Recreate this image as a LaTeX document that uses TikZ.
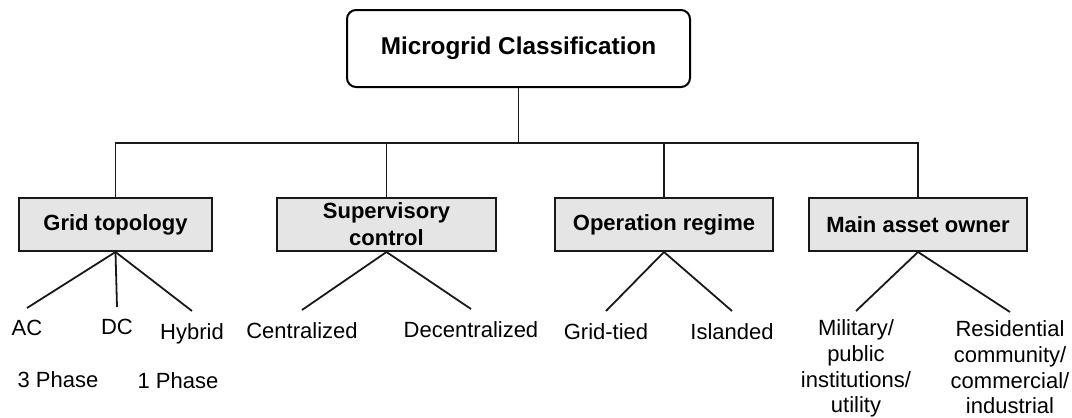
\documentclass[tikz,border=0pt]{standalone}
\usepackage{fontspec}
\setmainfont{Liberation Sans}
\begin{document}
\begin{tikzpicture}[x=1pt,y=-1pt,
  conn/.style={line width=1.8pt, draw=black!90},
  catbox/.style={draw=black!90, line width=2pt, fill=black!10,
    font=\bfseries\fontsize{22}{27}\selectfont, align=center,
    minimum height=53pt, inner sep=0pt},
  rootbox/.style={draw=black, line width=2pt, rounded corners=9pt,
    fill=white, minimum width=343pt, minimum height=77pt,
    font=\bfseries\fontsize{24.3}{29}\selectfont},
  leaf/.style={font=\fontsize{22}{25.7}\selectfont, align=center,
    inner xsep=0pt, inner ysep=12pt, anchor=north},
  note/.style={font=\fontsize{22}{25.7}\selectfont, inner sep=0pt, anchor=base}]
\useasboundingbox (0,0) rectangle (1072,418);

% root and the four classification criteria
\node[rootbox] (root) at (518.5,48.5) {Microgrid Classification};
\node[catbox, minimum width=193pt] (gt) at (115.5,224.5) {Grid topology};
\node[catbox, minimum width=219pt] (sc) at (386.5,224.5) {Supervisory\\control};
\node[catbox, minimum width=218pt] (op) at (664,224.5) {Operation regime};
\node[catbox, minimum width=218pt] (ma) at (918,224.5) {Main asset owner};

% distribution bus
\coordinate (bus) at (518.5,143);
\draw[conn] (root.south) -- (bus);
\draw[conn] (gt.north) -- (gt.north |- bus) -- (ma.north |- bus) -- (ma.north);
\draw[conn] (sc.north) -- (sc.north |- bus);
\draw[conn] (op.north) -- (op.north |- bus);

% grid topology
\node[leaf] (ac) at (27,308) {AC};
\node[leaf] (dc) at (117,307) {DC};
\node[leaf] (hy) at (192,311) {Hybrid};
\node[note] (p3) at (58,387) {3 Phase};
\node[note] (p1) at (178,388) {1 Phase};
\draw[conn] (gt.south) -- (ac.north);
\draw[conn] (gt.south) -- (dc.north);
\draw[conn] (gt.south) -- (hy.north);

% supervisory control
\node[leaf] (ce) at (302,310) {Centralized};
\node[leaf] (de) at (471,309) {Decentralized};
\draw[conn] (sc.south) -- (ce.north);
\draw[conn] (sc.south) -- (de.north);

% operation regime
\node[leaf] (gr) at (606,311) {Grid-tied};
\node[leaf] (is) at (732,311) {Islanded};
\draw[conn] (op.south) -- (gr.north);
\draw[conn] (op.south) -- (is.north);

% main asset owner
\node[leaf, inner ysep=8.5pt] (mi) at (856,311) {Military/\\public\\institutions/\\utility};
\node[leaf, inner ysep=8.5pt] (re) at (1010,312) {Residential\\community/\\commercial/\\industrial};
\draw[conn] (ma.south) -- (mi.north);
\draw[conn] (ma.south) -- (re.north);
\end{tikzpicture}
\end{document}
